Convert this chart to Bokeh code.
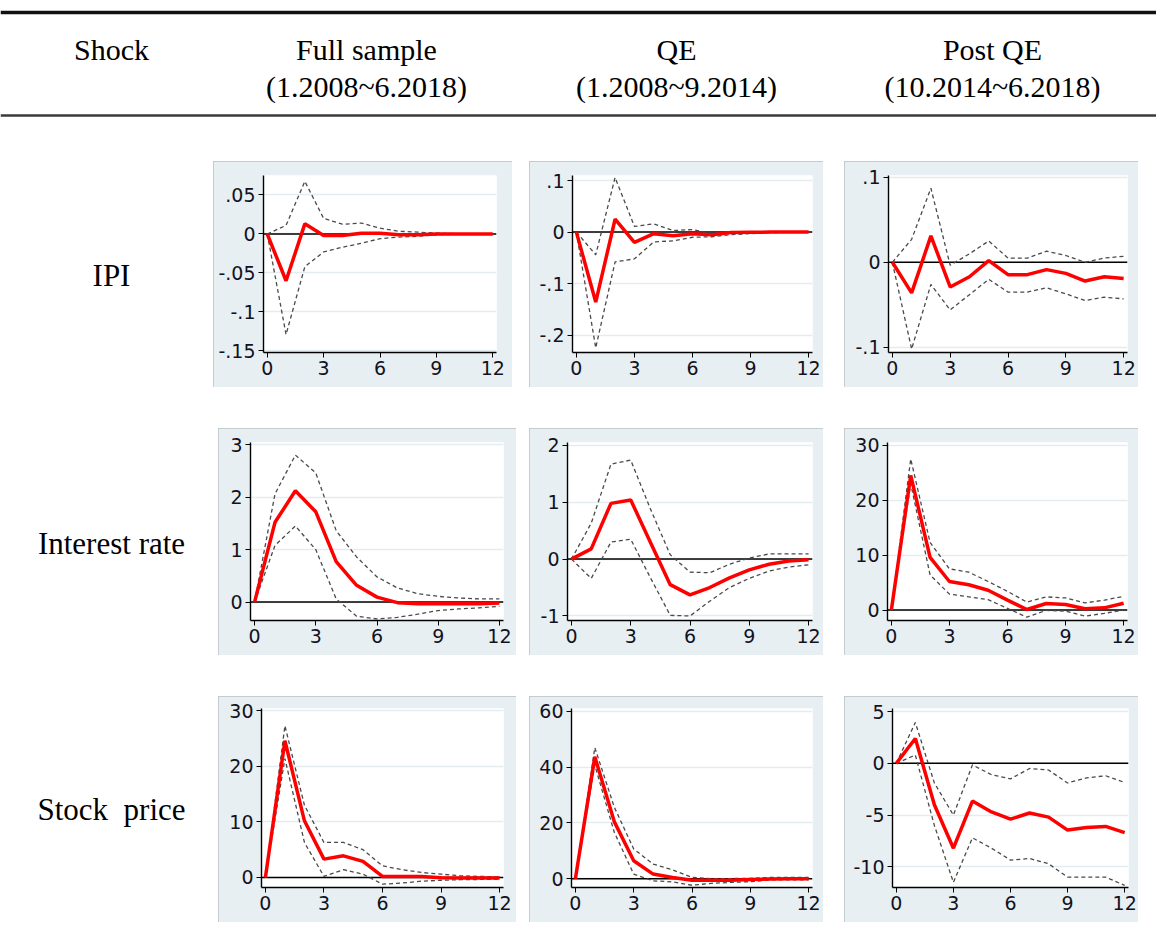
from bokeh.plotting import figure
from bokeh.models import Range1d, FixedTicker, CustomJSTickFormatter, Span, Spacer
from bokeh.layouts import row, column
from bokeh.core.properties import value
from bokeh.embed import file_html
from bokeh.resources import INLINE

# ---------------------------------------------------------------- data
horizon = list(range(13))

# IPI shock
ipi_full_irf = [0, -0.060, 0.013, -0.002, -0.002, 0.001, 0.001, -0.001, -0.001, 0.0, 0.0, 0.0, 0.0]
ipi_full_hi = [0, 0.011, 0.0675, 0.020, 0.0125, 0.014, 0.0075, 0.0035, 0.0025, 0.001, 0.0005, 0.0003, 0.0002]
ipi_full_lo = [0, -0.129, -0.042, -0.023, -0.017, -0.012, -0.006, -0.004, -0.003, -0.001, -0.0005, -0.0003, -0.0002]

ipi_qe_irf = [0, -0.136, 0.025, -0.020, -0.003, -0.007, -0.003, -0.005, -0.001, -0.0005, 0.0, 0.0, 0.0]
ipi_qe_hi = [0, -0.044, 0.106, 0.011, 0.016, 0.003, 0.005, -0.003, 0.001, 0.001, 0.0005, 0.0003, 0.0002]
ipi_qe_lo = [0, -0.225, -0.058, -0.052, -0.019, -0.017, -0.010, -0.009, -0.005, -0.003, -0.001, -0.0005, -0.0003]

ipi_post_irf = [0, -0.036, 0.031, -0.029, -0.017, 0.002, -0.0145, -0.0145, -0.0086, -0.013, -0.022, -0.017, -0.019]
ipi_post_hi = [0, 0.027, 0.087, -0.0035, 0.010, 0.025, 0.005, 0.005, 0.013, 0.008, 0.0, 0.005, 0.007]
ipi_post_lo = [0, -0.102, -0.026, -0.056, -0.038, -0.020, -0.035, -0.035, -0.030, -0.037, -0.045, -0.041, -0.043]

# Interest rate shock
rate_full_irf = [0, 1.52, 2.12, 1.72, 0.77, 0.32, 0.095, -0.01, -0.03, -0.03, -0.03, -0.03, -0.015]
rate_full_hi = [0, 2.06, 2.80, 2.46, 1.36, 0.86, 0.48, 0.27, 0.16, 0.11, 0.08, 0.06, 0.06]
rate_full_lo = [0, 1.08, 1.45, 1.00, 0.06, -0.27, -0.32, -0.29, -0.23, -0.16, -0.13, -0.11, -0.08]

rate_qe_irf = [0, 0.18, 0.98, 1.04, 0.29, -0.45, -0.63, -0.50, -0.33, -0.19, -0.09, -0.035, -0.01]
rate_qe_hi = [0, 0.63, 1.67, 1.74, 0.88, 0.075, -0.23, -0.24, -0.09, 0.02, 0.09, 0.09, 0.09]
rate_qe_lo = [0, -0.34, 0.30, 0.35, -0.33, -0.99, -1.00, -0.74, -0.50, -0.34, -0.21, -0.14, -0.10]

rate_post_irf = [0, 24.5, 9.6, 5.2, 4.6, 3.6, 1.8, 0.1, 1.2, 1.0, 0.25, 0.4, 1.25]
rate_post_hi = [0, 27.5, 12.3, 7.5, 6.9, 5.2, 3.4, 1.45, 2.4, 2.2, 1.3, 1.8, 2.5]
rate_post_lo = [0, 23.0, 6.4, 2.9, 2.4, 1.9, 0.3, -1.3, -0.05, -0.2, -1.1, -0.6, 0.0]

# Stock price shock
stock_full_irf = [0, 24.6, 10.2, 3.3, 3.9, 2.9, 0.2, 0.2, 0.2, -0.05, -0.1, -0.1, -0.1]
stock_full_hi = [0, 27.3, 13.0, 6.3, 6.3, 5.0, 2.1, 1.4, 0.9, 0.6, 0.3, 0.2, 0.1]
stock_full_lo = [0, 21.4, 6.3, 0.2, 1.4, 0.6, -1.2, -1.0, -0.66, -0.5, -0.4, -0.35, -0.3]

stock_qe_irf = [0, 43.7, 20.5, 6.5, 1.7, 0.5, -0.5, -0.5, -0.5, -0.2, -0.1, 0.0, 0.0]
stock_qe_hi = [0, 47.0, 25.7, 10.7, 5.3, 3.2, 0.5, 0.1, 0.1, 0.2, 0.5, 0.5, 0.5]
stock_qe_lo = [0, 40.7, 16.7, 1.7, -0.7, -1.1, -2.3, -1.6, -1.3, -1.0, -0.4, -0.4, -0.4]

stock_post_irf = [0, 2.4, -4.0, -8.2, -3.65, -4.7, -5.4, -4.8, -5.2, -6.45, -6.2, -6.1, -6.7]
stock_post_hi = [0, 3.95, -1.9, -5.0, -0.15, -1.1, -1.5, -0.5, -0.65, -1.9, -1.4, -1.2, -1.85]
stock_post_lo = [0, 0.8, -6.0, -11.5, -7.2, -8.2, -9.35, -9.2, -9.7, -11.0, -11.0, -11.0, -11.8]

# table text
shock_labels = ["IPI", "Interest rate", "Stock\u00a0 price"]
column_titles = ["Shock", "Full sample", "QE", "Post QE"]
column_periods = ["(1.2008~6.2018)", "(1.2008~9.2014)", "(10.2014~6.2018)"]
x_ticks = [0, 3, 6, 9, 12]

# ---------------------------------------------------------------- styling
PANEL_BG = "#e7eff2"
PANEL_EDGE = "#b9c1c5"
GRID = "#e3ecef"
SERIF = "Liberation Serif"
SANS = "DejaVu Sans"

stata_fmt = CustomJSTickFormatter(code="""
    const v = Math.round(tick * 1000) / 1000;
    let s = String(v);
    if (s.startsWith("0.")) s = s.slice(1);
    else if (s.startsWith("-0.")) s = "-" + s.slice(2);
    return s;
""")


def blank(width, height):
    p = figure(width=width, height=height, x_range=Range1d(0, width),
               y_range=Range1d(height, 0), output_backend="svg",
               toolbar_location=None, x_axis_location=None, y_axis_location=None,
               min_border=0)
    p.grid.visible = False
    p.outline_line_color = None
    p.background_fill_color = "white"
    p.border_fill_color = "white"
    return p


def irf_panel(width, height, margins, yrange, yticks, irf, lo, hi):
    left, right, top, bottom = margins
    p = figure(width=width, height=height,
               x_range=Range1d(-0.2, 12.2), y_range=Range1d(*yrange),
               output_backend="svg", toolbar_location=None,
               min_border_left=left, min_border_right=right,
               min_border_top=top, min_border_bottom=bottom)
    p.background_fill_color = "white"
    p.border_fill_color = PANEL_BG
    p.outline_line_color = None
    p.xgrid.visible = False
    p.ygrid.ticker = FixedTicker(ticks=yticks)
    p.ygrid.grid_line_color = GRID
    p.ygrid.grid_line_width = 1.5

    p.xaxis.ticker = FixedTicker(ticks=x_ticks)
    p.yaxis.ticker = FixedTicker(ticks=yticks)
    p.yaxis.formatter = stata_fmt
    for ax in (p.xaxis, p.yaxis):
        ax.axis_line_color = "black"
        ax.axis_line_width = 1.4
        ax.major_tick_line_color = "black"
        ax.major_tick_in = 0
        ax.major_tick_out = 5
        ax.minor_tick_line_color = None
        ax.major_label_standoff = 3
        ax.major_label_text_font = SANS
        ax.major_label_text_font_size = "19px"
        ax.major_label_text_color = "#12121e"

    p.add_layout(Span(location=0, dimension="width", line_color="black",
                      line_width=1.5, level="underlay"))
    p.line(horizon, hi, line_color="#4a4a4a", line_width=1.3, line_dash="4 3")
    p.line(horizon, lo, line_color="#4a4a4a", line_width=1.3, line_dash="4 3")
    p.line(horizon, irf, line_color="#ff0000", line_width=3.5)
    p.styles = {"outline": f"1px solid {PANEL_EDGE}", "outline-offset": "-1px"}
    return p


# ---------------------------------------------------------------- header
header = blank(1156, 161)
header.add_layout(Span(location=12, dimension="width", line_color="#111111", line_width=3.5))
header.add_layout(Span(location=115, dimension="width", line_color="#3a3a3a", line_width=2.5))
header.text(x=[111, 366, 676, 992], y=[49] * 4, text=column_titles,
            text_font=value(SERIF), text_font_size="30px", text_color="black",
            text_align="center", text_baseline="middle")
header.text(x=[366, 676, 992], y=[86] * 3, text=column_periods,
            text_font=value(SERIF), text_font_size="30px", text_color="black",
            text_align="center", text_baseline="middle")

# ---------------------------------------------------------------- panel grid
rows_spec = [
    dict(height=226, label_y=128, lefts=[213, 529, 844], widths=[299, 294, 294],
         panels=[
             ((50, 16, 12, 35), (-0.152, 0.075), [-0.15, -0.1, -0.05, 0, 0.05], ipi_full_irf, ipi_full_lo, ipi_full_hi),
             ((43, 11, 14, 34), (-0.234, 0.11), [-0.2, -0.1, 0, 0.1], ipi_qe_irf, ipi_qe_lo, ipi_qe_hi),
             ((44, 11, 14, 34), (-0.106, 0.102), [-0.1, 0, 0.1], ipi_post_irf, ipi_post_lo, ipi_post_hi),
         ]),
    dict(height=227, label_y=129, lefts=[218, 529, 844], widths=[298, 294, 294],
         panels=[
             ((32, 13, 14, 35), (-0.35, 3.04), [0, 1, 2, 3], rate_full_irf, rate_full_lo, rate_full_hi),
             ((38, 11, 13, 33), (-1.08, 2.05), [-1, 0, 1, 2], rate_qe_irf, rate_qe_lo, rate_qe_hi),
             ((43, 11, 12, 34), (-1.9, 30.5), [0, 10, 20, 30], rate_post_irf, rate_post_lo, rate_post_hi),
         ]),
    dict(height=226, label_y=127, lefts=[218, 529, 844], widths=[298, 294, 294],
         panels=[
             ((43, 13, 12, 34), (-1.8, 30.4), [0, 10, 20, 30], stock_full_irf, stock_full_lo, stock_full_hi),
             ((42, 11, 12, 35), (-3.1, 61), [0, 20, 40, 60], stock_qe_irf, stock_qe_lo, stock_qe_hi),
             ((48, 10, 12, 34), (-12.0, 5.3), [-10, -5, 0, 5], stock_post_irf, stock_post_lo, stock_post_hi),
         ]),
]

blocks = [header]
for i, spec in enumerate(rows_spec):
    h = spec["height"]
    lefts, widths = spec["lefts"], spec["widths"]
    label = blank(lefts[0], h)
    label.text(x=[111], y=[spec["label_y"]], text=[shock_labels[i]],
               text_font=value(SERIF), text_font_size="31px", text_color="black",
               text_align="center", text_baseline="middle")
    items = [label]
    for j, (m, yr, yt, irf, lo, hi) in enumerate(spec["panels"]):
        if j > 0:
            gap = lefts[j] - (lefts[j - 1] + widths[j - 1])
            items.append(Spacer(width=gap, height=h))
        items.append(irf_panel(widths[j], h, m, yr, yt, irf, lo, hi))
    blocks.append(row(*items))
    if i < len(rows_spec) - 1:
        blocks.append(Spacer(width=1156, height=41))

layout = column(*blocks)

open("out.html", "w").write(file_html(layout, INLINE))
